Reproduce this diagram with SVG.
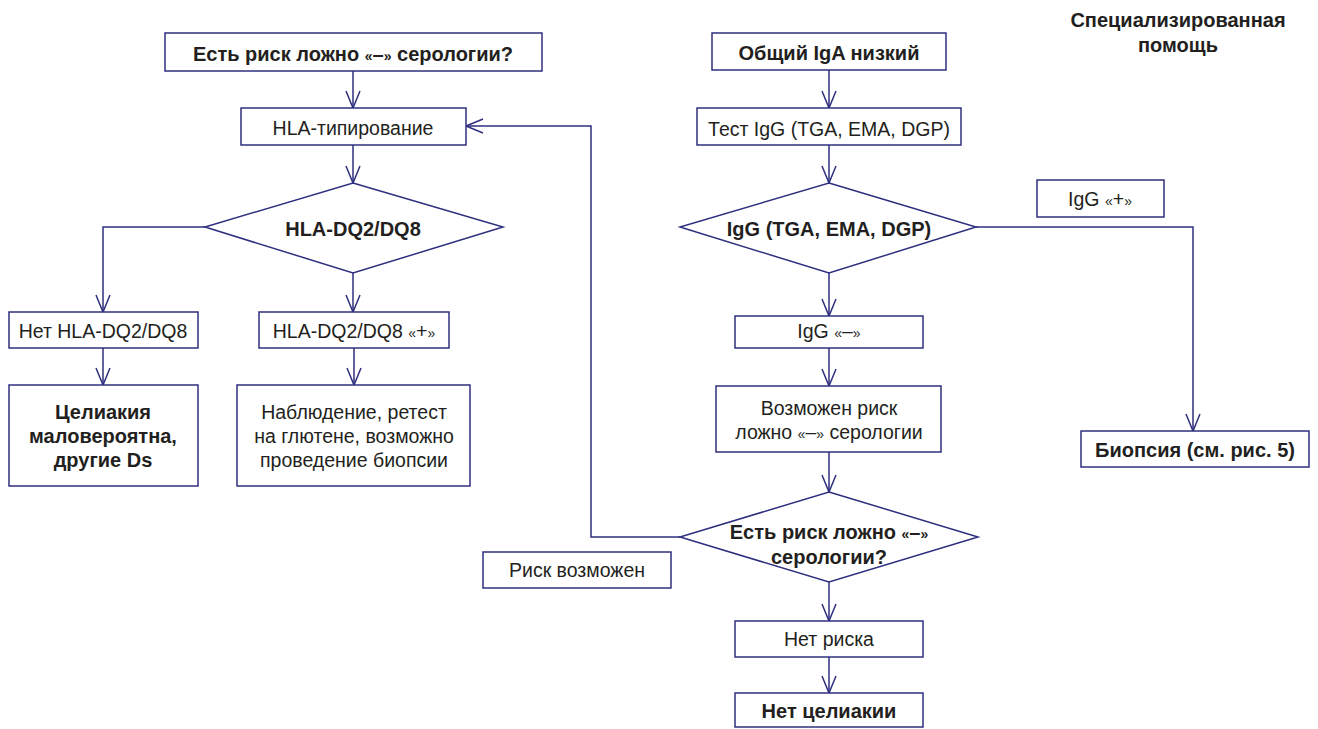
<svg xmlns="http://www.w3.org/2000/svg" width="1318" height="729" viewBox="0 0 1318 729">
<style>
.box{fill:#fff;stroke:#2e2f7f;stroke-width:1.5}
.c{fill:none;stroke:#2e2f7f;stroke-width:1.5}
text{font-family:"Liberation Sans",Arial,sans-serif;fill:#231f20;text-anchor:middle}
.n{font-size:19.5px}
.b{font-size:20px;font-weight:bold}
.q{font-size:14px}
</style>
<defs>
<marker id="ar" markerUnits="userSpaceOnUse" markerWidth="20" markerHeight="16" refX="17" refY="7" orient="auto" overflow="visible">
<path d="M0,0 L17,7 L0,14" fill="none" stroke="#2e2f7f" stroke-width="1.5"/>
</marker>
</defs>
<rect width="1318" height="729" fill="#fff"/>
<g id="connectors">
<path class="c" d="M353,71 V108" marker-end="url(#ar)"/>
<path class="c" d="M353,145 V183" marker-end="url(#ar)"/>
<path class="c" d="M205,227 H103 V312" marker-end="url(#ar)"/>
<path class="c" d="M353,273 V312" marker-end="url(#ar)"/>
<path class="c" d="M103,348 V385" marker-end="url(#ar)"/>
<path class="c" d="M354,348 V385" marker-end="url(#ar)"/>
<path class="c" d="M829,70 V108" marker-end="url(#ar)"/>
<path class="c" d="M829,145 V183" marker-end="url(#ar)"/>
<path class="c" d="M829,273 V316" marker-end="url(#ar)"/>
<path class="c" d="M976,227 H1193 V431" marker-end="url(#ar)"/>
<path class="c" d="M829,348 V386" marker-end="url(#ar)"/>
<path class="c" d="M829,452 V492" marker-end="url(#ar)"/>
<path class="c" d="M680,537 H591 V126 H466" marker-end="url(#ar)"/>
<path class="c" d="M829,582 V621" marker-end="url(#ar)"/>
<path class="c" d="M829,657 V693" marker-end="url(#ar)"/>
</g>
<g id="title">
<text class="b" x="1178" y="27">Специализированная</text>
<text class="b" x="1178" y="52">помощь</text>
</g>
<g id="n1"><rect class="box" x="165" y="33" width="377" height="38"/><text class="b" x="353" y="61">Есть риск ложно <tspan class="q">«</tspan>–<tspan class="q">»</tspan> серологии?</text></g>
<g id="n2"><rect class="box" x="241" y="108" width="225" height="37"/><text class="n" x="353" y="135">HLA-типирование</text></g>
<g id="n3"><polygon class="box" points="353,183 503,227 353,273 205,227"/><text class="b" x="353" y="236">HLA-DQ2/DQ8</text></g>
<g id="n4"><rect class="box" x="9" y="312" width="189" height="36"/><text class="n" x="103" y="338">Нет HLA-DQ2/DQ8</text></g>
<g id="n5"><rect class="box" x="259" y="312" width="190" height="36"/><text class="n" x="354" y="338">HLA-DQ2/DQ8 <tspan class="q">«</tspan>+<tspan class="q">»</tspan></text></g>
<g id="n6"><rect class="box" x="9" y="385" width="189" height="101"/>
<text class="b" x="103" y="419">Целиакия</text><text class="b" x="103" y="443">маловероятна,</text><text class="b" x="103" y="467">другие Ds</text></g>
<g id="n7"><rect class="box" x="237" y="385" width="233" height="101"/>
<text class="n" x="354" y="419">Наблюдение, ретест</text><text class="n" x="354" y="443">на глютене, возможно</text><text class="n" x="354" y="467">проведение биопсии</text></g>
<g id="n8"><rect class="box" x="712" y="33" width="234" height="37"/><text class="b" x="829" y="60">Общий IgA низкий</text></g>
<g id="n9"><rect class="box" x="697" y="108" width="264" height="37"/><text class="n" x="829" y="136">Тест IgG (TGA, EMA, DGP)</text></g>
<g id="n10"><polygon class="box" points="829,183 976,227 829,273 680,227"/><text class="b" x="829" y="236">IgG (TGA, EMA, DGP)</text></g>
<g id="n11"><rect class="box" x="1037" y="180" width="127" height="37"/><text class="n" x="1100" y="206">IgG <tspan class="q">«</tspan>+<tspan class="q">»</tspan></text></g>
<g id="n12"><rect class="box" x="735" y="316" width="188" height="32"/><text class="n" x="829" y="338">IgG <tspan class="q">«</tspan>–<tspan class="q">»</tspan></text></g>
<g id="n13"><rect class="box" x="716" y="386" width="225" height="66"/>
<text class="n" x="829" y="415">Возможен риск</text><text class="n" x="829" y="439">ложно <tspan class="q">«</tspan>–<tspan class="q">»</tspan> серологии</text></g>
<g id="n14"><rect class="box" x="1081" y="431" width="228" height="36"/><text class="b" x="1195" y="457">Биопсия (см. рис. 5)</text></g>
<g id="n15"><polygon class="box" points="829,492 978,537 829,582 680,537"/>
<text class="b" x="829" y="539">Есть риск ложно <tspan class="q">«</tspan>–<tspan class="q">»</tspan></text><text class="b" x="829" y="564">серологии?</text></g>
<g id="n16"><rect class="box" x="483" y="552" width="188" height="36"/><text class="n" x="577" y="577">Риск возможен</text></g>
<g id="n17"><rect class="box" x="735" y="621" width="188" height="36"/><text class="n" x="829" y="646">Нет риска</text></g>
<g id="n18"><rect class="box" x="735" y="693" width="188" height="34"/><text class="b" x="829" y="718">Нет целиакии</text></g>
</svg>
